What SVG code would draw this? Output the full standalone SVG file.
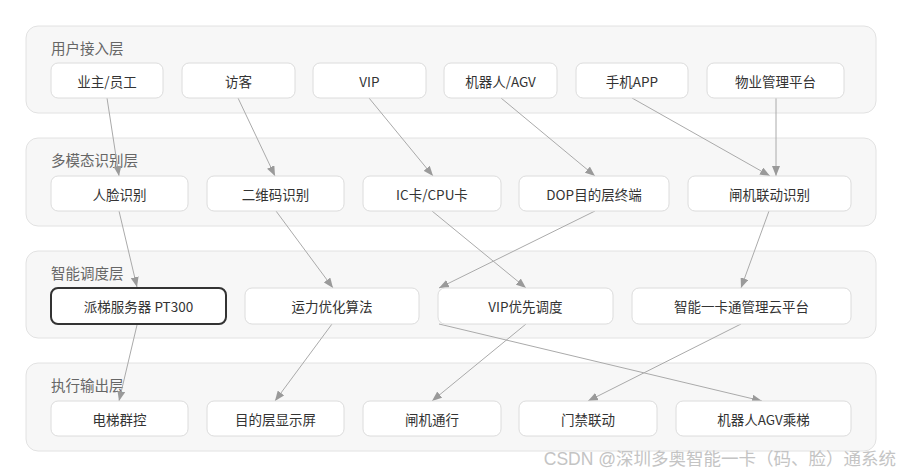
<svg xmlns="http://www.w3.org/2000/svg" width="900" height="473" viewBox="0 0 900 473">
<defs>
<style>
.layer{fill:#f7f7f7;stroke:#e2e2e2;stroke-width:1}
.ltxt{font-family:"Noto Sans CJK SC","Liberation Sans",sans-serif;font-size:14.5px;fill:#666}
.node rect{fill:#fff;stroke:#dcdcdc;stroke-width:1}
.node text{font-family:"Noto Sans CJK SC","Liberation Sans",sans-serif;font-size:13.5px;fill:#333;text-anchor:middle;dominant-baseline:central}
.node.hl rect{stroke:#333;stroke-width:2}
#edges line{stroke:#aaa;stroke-width:1;fill:none;marker-end:url(#arr)}
.wm{font-family:"Liberation Sans","Noto Sans CJK SC",sans-serif;font-size:17.5px;fill:#c4c4c4;text-anchor:end}
</style>
<marker id="arr" viewBox="0 0 10 8" refX="10" refY="4" markerWidth="10" markerHeight="8" markerUnits="userSpaceOnUse" orient="auto">
<path d="M0,0 L10,4 L0,8 z" fill="#9a9a9a"/>
</marker>
</defs>
<rect width="900" height="473" fill="#fff"/>
<g id="layers">
<rect class="layer" x="26" y="26" width="850" height="87" rx="12"/>
<text class="ltxt" x="51" y="54">用户接入层</text>
<rect class="layer" x="26" y="138" width="850" height="88" rx="12"/>
<text class="ltxt" x="51" y="166">多模态识别层</text>
<rect class="layer" x="26" y="251" width="850" height="87" rx="12"/>
<text class="ltxt" x="51" y="279">智能调度层</text>
<rect class="layer" x="26" y="363" width="850" height="88" rx="12"/>
<text class="ltxt" x="51" y="391">执行输出层</text>
</g>
<g id="edges">
<line x1="107" y1="98" x2="119" y2="176"/>
<line x1="238" y1="98" x2="275" y2="176"/>
<line x1="369" y1="98" x2="433" y2="176"/>
<line x1="501" y1="98" x2="595" y2="176"/>
<line x1="632" y1="98" x2="770" y2="176"/>
<line x1="776" y1="98" x2="776" y2="176"/>
<line x1="119" y1="211" x2="137" y2="287"/>
<line x1="276" y1="211" x2="333" y2="288"/>
<line x1="432" y1="211" x2="526" y2="288"/>
<line x1="595" y1="211" x2="439" y2="288"/>
<line x1="769" y1="211" x2="741" y2="288"/>
<line x1="137" y1="325" x2="119" y2="401"/>
<line x1="332" y1="324" x2="275" y2="401"/>
<line x1="526" y1="324" x2="432" y2="401"/>
<line x1="741" y1="324" x2="588" y2="401"/>
<line x1="439" y1="324" x2="762" y2="401"/>
</g>
<g id="n_owner" class="node"><rect x="51" y="63" width="112" height="35" rx="7"/><text x="107" y="80.5">业主/员工</text></g>
<g id="n_visitor" class="node"><rect x="182" y="63" width="113" height="35" rx="7"/><text x="238.5" y="80.5">访客</text></g>
<g id="n_vip" class="node"><rect x="313" y="63" width="113" height="35" rx="7"/><text x="369.5" y="80.5">VIP</text></g>
<g id="n_robot" class="node"><rect x="444" y="63" width="113" height="35" rx="7"/><text x="500.5" y="80.5">机器人/AGV</text></g>
<g id="n_app" class="node"><rect x="576" y="63" width="112" height="35" rx="7"/><text x="632" y="80.5">手机APP</text></g>
<g id="n_pm" class="node"><rect x="707" y="63" width="137" height="35" rx="7"/><text x="775.5" y="80.5">物业管理平台</text></g>

<g id="n_face" class="node"><rect x="51" y="176" width="137" height="35" rx="7"/><text x="119.5" y="193.5">人脸识别</text></g>
<g id="n_qr" class="node"><rect x="207" y="176" width="137" height="35" rx="7"/><text x="275.5" y="193.5">二维码识别</text></g>
<g id="n_ic" class="node"><rect x="363" y="176" width="138" height="35" rx="7"/><text x="432" y="193.5">IC卡/CPU卡</text></g>
<g id="n_dop" class="node"><rect x="519" y="176" width="150" height="35" rx="7"/><text x="594" y="193.5">DOP目的层终端</text></g>
<g id="n_gate" class="node"><rect x="688" y="176" width="163" height="35" rx="7"/><text x="769.5" y="193.5">闸机联动识别</text></g>

<g id="n_pt300" class="node hl"><rect x="51" y="288" width="175" height="36" rx="7"/><text x="138.5" y="306">派梯服务器 PT300</text></g>
<g id="n_algo" class="node"><rect x="245" y="288" width="174" height="36" rx="7"/><text x="332" y="306">运力优化算法</text></g>
<g id="n_vipsch" class="node"><rect x="438" y="288" width="175" height="36" rx="7"/><text x="525.5" y="306">VIP优先调度</text></g>
<g id="n_cloud" class="node"><rect x="632" y="288" width="219" height="36" rx="7"/><text x="741.5" y="306">智能一卡通管理云平台</text></g>

<g id="n_group" class="node"><rect x="51" y="401" width="137" height="35" rx="7"/><text x="119.5" y="418.5">电梯群控</text></g>
<g id="n_disp" class="node"><rect x="207" y="401" width="137" height="35" rx="7"/><text x="275.5" y="418.5">目的层显示屏</text></g>
<g id="n_pass" class="node"><rect x="363" y="401" width="138" height="35" rx="7"/><text x="432" y="418.5">闸机通行</text></g>
<g id="n_door" class="node"><rect x="519" y="401" width="138" height="35" rx="7"/><text x="588" y="418.5">门禁联动</text></g>
<g id="n_agv" class="node"><rect x="676" y="401" width="175" height="35" rx="7"/><text x="763.5" y="418.5">机器人AGV乘梯</text></g>

<text class="wm" x="896" y="465">CSDN @深圳多奥智能一卡（码、脸）通系统</text>
</svg>
